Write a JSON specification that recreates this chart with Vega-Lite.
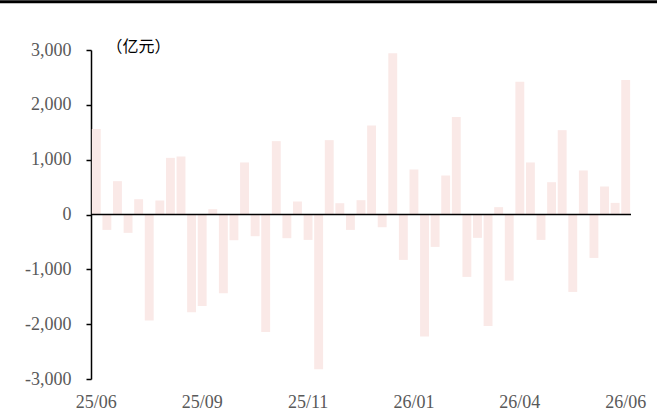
{
  "$schema": "https://vega.github.io/schema/vega-lite/v6.json",
  "autosize": "none",
  "width": 540,
  "height": 329,
  "padding": {"left": 91, "top": 50, "right": 26, "bottom": 41},
  "background": "white",
  "config": {"view": {"stroke": null}, "font": "Liberation Serif"},
  "data": {"values": [
    {"i": 1, "v": 1557}, {"i": 2, "v": -281}, {"i": 3, "v": 608}, {"i": 4, "v": -335},
    {"i": 5, "v": 279}, {"i": 6, "v": -1934}, {"i": 7, "v": 255}, {"i": 8, "v": 1033},
    {"i": 9, "v": 1058}, {"i": 10, "v": -1783}, {"i": 11, "v": -1667}, {"i": 12, "v": 97},
    {"i": 13, "v": -1436}, {"i": 14, "v": -469}, {"i": 15, "v": 949}, {"i": 16, "v": -396},
    {"i": 17, "v": -2142}, {"i": 18, "v": 1338}, {"i": 19, "v": -432}, {"i": 20, "v": 237},
    {"i": 21, "v": -463}, {"i": 22, "v": -2823}, {"i": 23, "v": 1356}, {"i": 24, "v": 206},
    {"i": 25, "v": -281}, {"i": 26, "v": 261}, {"i": 27, "v": 1624}, {"i": 28, "v": -232},
    {"i": 29, "v": 2943}, {"i": 30, "v": -828}, {"i": 31, "v": 821}, {"i": 32, "v": -2226},
    {"i": 33, "v": -591}, {"i": 34, "v": 711}, {"i": 35, "v": 1776}, {"i": 36, "v": -1138},
    {"i": 37, "v": -426}, {"i": 38, "v": -2032}, {"i": 39, "v": 134}, {"i": 40, "v": -1205},
    {"i": 41, "v": 2420}, {"i": 42, "v": 949}, {"i": 43, "v": -463}, {"i": 44, "v": 589},
    {"i": 45, "v": 1538}, {"i": 46, "v": -1412}, {"i": 47, "v": 803}, {"i": 48, "v": -792},
    {"i": 49, "v": 511}, {"i": 50, "v": 212}, {"i": 51, "v": 2451}
  ]},
  "resolve": {"scale": {"x": "independent"}, "axis": {"x": "independent"}},
  "layer": [
    {
      "mark": {"type": "bar", "color": "#FAE9E7"},
      "encoding": {
        "x": {
          "field": "i", "type": "ordinal",
          "scale": {"paddingInner": 0.16, "paddingOuter": 0.08},
          "axis": {
            "title": null, "domain": false, "ticks": false, "labelAngle": 0,
            "values": [1, 11, 21, 31, 41, 51],
            "labelExpr": "{'1':'25/06','11':'25/09','21':'25/11','31':'26/01','41':'26/04','51':'26/06'}[datum.label]",
            "labelFont": "Liberation Serif", "labelFontSize": 18, "labelColor": "#595959",
            "labelPadding": 14
          }
        },
        "y": {
          "field": "v", "type": "quantitative",
          "scale": {"domain": [-3000, 3000], "nice": false},
          "axis": {
            "values": [-3000, -2000, -1000, 0, 1000, 2000, 3000],
            "format": ",d", "grid": false,
            "labelExpr": "replace(datum.label, '\u2212', '-')",
            "domainColor": "#000000", "domainWidth": 1.5,
            "tickColor": "#000000", "tickSize": 5, "tickWidth": 1.5,
            "labelFont": "Liberation Serif", "labelFontSize": 18, "labelColor": "#595959",
            "labelPadding": 15,
            "title": "（亿元）", "titleAngle": 0, "titleAlign": "left", "titleBaseline": "middle",
            "titleX": 15, "titleY": -4, "titleFont": "Noto Sans CJK SC", "titleFontSize": 16,
            "titleFontWeight": "normal", "titleColor": "#000000"
          }
        }
      }
    },
    {
      "data": {"values": [{"y": 0}]},
      "mark": {"type": "rule", "color": "#000000", "strokeWidth": 1.5},
      "encoding": {"y": {"field": "y", "type": "quantitative"}}
    },
    {
      "data": {"values": [{"y": 3880, "a": 0, "b": 1}]},
      "mark": {"type": "rule", "color": "#000000", "strokeWidth": 3, "clip": false},
      "encoding": {
        "y": {"field": "y", "type": "quantitative"},
        "x": {"field": "a", "type": "quantitative", "scale": {"domain": [0.1385, 0.9604], "nice": false, "zero": false}, "axis": null},
        "x2": {"field": "b"}
      }
    }
  ]
}
